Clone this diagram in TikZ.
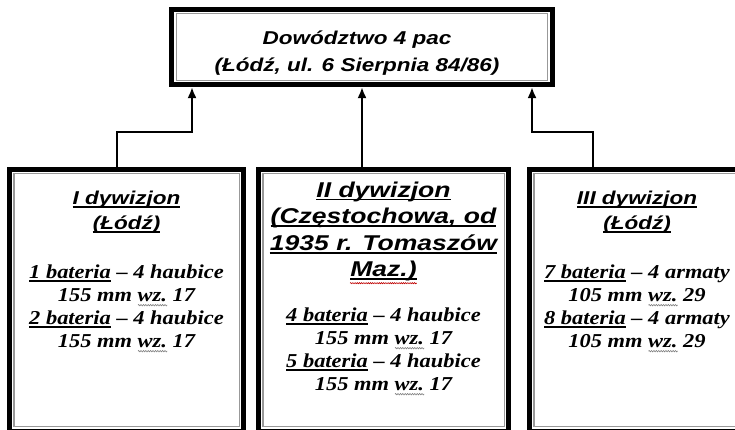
\documentclass[tikz,border=0pt]{standalone}
\usepackage{fontspec}
\usetikzlibrary{arrows.meta,decorations.pathmorphing}
\newfontfamily\hfont[FakeStretch=1.21]{Liberation Sans}
\newfontfamily\hfontw[FakeStretch=1.24]{Liberation Sans}
\newfontfamily\tfont[FakeStretch=1.14]{Liberation Serif}
\newsavebox\ulbox
\newsavebox\wvbox
\newcommand\ul[1]{\sbox\ulbox{#1}\leavevmode\usebox\ulbox\llap{\vrule width \wd\ulbox height -1.9pt depth 3.4pt}}
\newcommand\wv[1]{\sbox\wvbox{#1}\leavevmode\rlap{\raisebox{-4.8pt}{\tikz[x=1pt,y=1pt]\draw[gray,line width=0.6pt,decorate,decoration={zigzag,amplitude=0.7pt,segment length=2.4pt}] (0pt,0pt)--(\the\wd\wvbox,0pt);}}\usebox\wvbox}
\begin{document}
\begin{tikzpicture}[x=1pt,y=-1pt,
  box/.style={draw=black, line width=4.6pt, rectangle, inner sep=0pt},
  inline/.style={draw=gray!80, line width=1.1pt},
  conn/.style={line width=2.7pt, -{Latex[length=11pt,width=9pt]}},
  toptext/.style={font=\hfont\bfseries\itshape\fontsize{18.6}{27}\selectfont, align=center, inner sep=0pt},
  hd/.style={font=\hfont\bfseries\itshape\fontsize{18.6}{24.5}\selectfont, inner sep=0pt, anchor=base},
  hdw/.style={font=\hfontw\bfseries\itshape\fontsize{21.4}{26.5}\selectfont, inner sep=0pt, anchor=base},
  uline/.style={line width=1.6pt, line cap=butt},
  redwave/.style={draw=red!75!black, line width=0.6pt, decorate, decoration={zigzag,amplitude=0.6pt,segment length=2.2pt}},
  bt/.style={font=\tfont\bfseries\itshape\fontsize{19.7}{23}\selectfont, align=center, inner sep=0pt, anchor=north}]
\useasboundingbox (0,0) rectangle (735,430);
\fill[white] (0,0) rectangle (735,430);
% top box
\node[box, minimum width=381.5pt, minimum height=75.5pt] (top) at (362,47) {};
\draw[inline] ([shift={(7.5,6.5)}]top.north west) rectangle ([shift={(-7.5,-6.5)}]top.south east);
\node[toptext] (toptxt) at (357,53) {Dowództwo 4 pac\\(Łódź, ul. 6 Sierpnia 84/86)};
% lower boxes
\node[box, minimum width=234.5pt, minimum height=262pt] (b1) at (126.5,300.25) {};
\node[box, minimum width=250.5pt, minimum height=262pt] (b2) at (383.5,300.25) {};
\node[box, minimum width=215.5pt, minimum height=262pt] (b3) at (637,300.25) {};
\foreach \b in {b1,b2,b3}
  \draw[inline] ([shift={(7,7)}]\b.north west) rectangle ([shift={(-7,-7)}]\b.south east);
% headings
\node[hd] (h1a) at (126.5,204.6) {I dywizjon};
\node[hd] (h1b) at (126.5,229.1) {(Łódź)};
\node[hdw] (h2a) at (383.5,197) {II dywizjon};
\node[hdw] (h2b) at (383.5,223.5) {(Częstochowa, od};
\node[hdw] (h2c) at (383.5,250) {1935 r. Tomaszów};
\node[hdw] (h2d) at (383.5,276) {Maz.)};
\node[hd] (h3a) at (637,204.6) {III dywizjon};
\node[hd] (h3b) at (637,229.1) {(Łódź)};
\foreach \h in {h1a,h1b,h2a,h2b,h2c,h2d,h3a,h3b}
  \draw[uline] ([yshift=-2.7pt]\h.base west) -- ([yshift=-2.7pt]\h.base east);
\draw[redwave] ([yshift=-7.2pt]h2d.base west) -- ([yshift=-7.2pt]h2d.base east);
% batteries
\node[bt] (t1) at (126.5,264.5) {\ul{1 bateria} – 4 haubice\\155 mm \wv{wz.} 17\\\ul{2 bateria} – 4 haubice\\155 mm \wv{wz.} 17};
\node[bt] (t2) at (383.5,307.5) {\ul{4 bateria} – 4 haubice\\155 mm \wv{wz.} 17\\\ul{5 bateria} – 4 haubice\\155 mm \wv{wz.} 17};
\node[bt] (t3) at (637,264.5) {\ul{7 bateria} – 4 armaty\\105 mm \wv{wz.} 29\\\ul{8 bateria} – 4 armaty\\105 mm \wv{wz.} 29};
% connectors
\draw[conn] ([shift={(-9.5,0)}]b1.north) |- ([shift={(-170,45)}]top.south) -- ([shift={(-170,0)}]top.south);
\draw[conn] (b2.north -| top.south) -- (top.south);
\draw[conn] ([shift={(-44,0)}]b3.north) |- ([shift={(170,45)}]top.south) -- ([shift={(170,0)}]top.south);
\end{tikzpicture}
\end{document}
